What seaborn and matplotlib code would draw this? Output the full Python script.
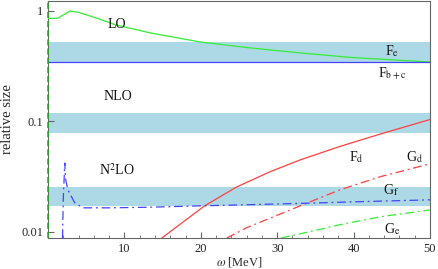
import numpy as np
import pandas as pd
import matplotlib
matplotlib.use('Agg')
import matplotlib.pyplot as plt
import seaborn as sns
from matplotlib.ticker import FixedLocator, MultipleLocator, NullLocator

# curves (omega in MeV, relative size)
lo_w = [0, 1.3, 2.0, 2.9, 4.0, 5.5, 6.8, 8.8, 13.4, 19.9, 26.4, 33.0, 39.5, 47.4, 50]
lo_v = [0.855, 0.86, 0.92, 1.0, 0.97, 0.90, 0.84, 0.75, 0.632, 0.524, 0.463, 0.417, 0.38, 0.353, 0.345]

fbc_w = [0, 50]
fbc_v = [0.345, 0.345]

fd_w = [14.9, 17.7, 20.5, 24.7, 29.1, 33.0, 38.2, 43.1, 50]
fd_v = [0.0088, 0.0123, 0.0172, 0.0255, 0.0351, 0.0448, 0.0593, 0.0754, 0.104]

gd_w = [23.4, 26.0, 33.0, 38.2, 43.5, 50]
gd_v = [0.0088, 0.0109, 0.0172, 0.024, 0.0316, 0.0413]

ge_w = [30.5, 33.0, 38.2, 43.5, 50]
ge_v = [0.0088, 0.0096, 0.0116, 0.0137, 0.0158]

# steep part of G_e at threshold, sits on the left frame
ge0_w = [0.0, 0.0]
ge0_v = [0.0088, 1.23]

gf_w = [1.9, 2.0, 2.2, 2.3, 2.6, 3.5, 4.6, 8.0, 13.0, 20.0, 26.0, 33.0, 40.0, 50]
gf_v = [0.0088, 0.02, 0.042, 0.03, 0.024, 0.0183, 0.0165, 0.0165, 0.0167, 0.0172, 0.0176, 0.0181, 0.0187, 0.0195]

# error bands
band_lo = [0.345, 0.078, 0.0172]
band_hi = [0.52, 0.118, 0.0255]

labels = ['LO', 'NLO', r'N$^2$LO', r'F$_\mathrm{e}$', r'F$_\mathrm{b+c}$', r'F$_\mathrm{d}$',
          r'G$_\mathrm{d}$', r'G$_\mathrm{f}$', r'G$_\mathrm{e}$']
label_w = [9.0, 9.1, 9.0, 45.0, 45.0, 40.3, 48.0, 44.9, 45.0]
label_v = [0.76, 0.168, 0.0364, 0.434, 0.27, 0.0477, 0.0477, 0.024, 0.0106]

sns.set_style('ticks')
plt.rcParams['font.family'] = ['Liberation Serif', 'DejaVu Serif']
plt.rcParams['mathtext.fontset'] = 'stix'

fig = plt.figure(figsize=(4.38, 2.69), dpi=100)
ax = fig.add_axes([48 / 438, 31 / 269, 382 / 438, 237 / 269])

for lo, hi in zip(band_lo, band_hi):
    ax.axhspan(lo, hi, color='#add8e6', lw=0, zorder=0)

dashdot = (0, (7, 3, 1.5, 3))
green = '#33ee33'
blue = '#4444ff'
red = '#ff4040'

def curve(w, v, color, ls='-', z=3):
    sns.lineplot(x=w, y=v, ax=ax, color=color, lw=0.9, sort=False, estimator=None, zorder=z)
    ax.lines[-1].set_linestyle(ls)
    return ax.lines[-1]

curve(lo_w, lo_v, green)
curve(fbc_w, fbc_v, blue)
curve(fd_w, fd_v, red)
curve(gd_w, gd_v, red, dashdot)
curve(ge_w, ge_v, green, dashdot)
edge = curve(ge0_w, ge0_v, '#22aa22', (0, (4, 2)), z=5)
edge.set_clip_on(False)
edge.set_linewidth(1.1)
gf = curve(gf_w, gf_v, blue, dashdot)

for t, w, v in zip(labels, label_w, label_v):
    ax.text(w, v, t, ha='center', va='center', fontsize=10, color='#111111')

ax.set_yscale('log')
ax.set_xlim(0, 50)
ax.set_ylim(0.0088, 1.23)
ax.xaxis.set_major_locator(FixedLocator([10, 20, 30, 40, 50]))
ax.xaxis.set_minor_locator(MultipleLocator(2))
ax.yaxis.set_major_locator(FixedLocator([0.01, 0.1, 1]))
ax.yaxis.set_minor_locator(NullLocator())
ax.set_yticklabels(['0.01', '0.1', '1'])
ax.tick_params(which='both', direction='in', color='#666666', labelsize=9)
ax.tick_params(which='major', length=4)
ax.tick_params(which='minor', length=2)
for s in ax.spines.values():
    s.set_color('#666666')
    s.set_linewidth(0.8)

ax.set_xlabel(r'$\omega$ [MeV]', fontsize=9, labelpad=0)
ax.set_ylabel('relative size', fontsize=10.5, labelpad=5)

fig.savefig('out.png', dpi=100)
